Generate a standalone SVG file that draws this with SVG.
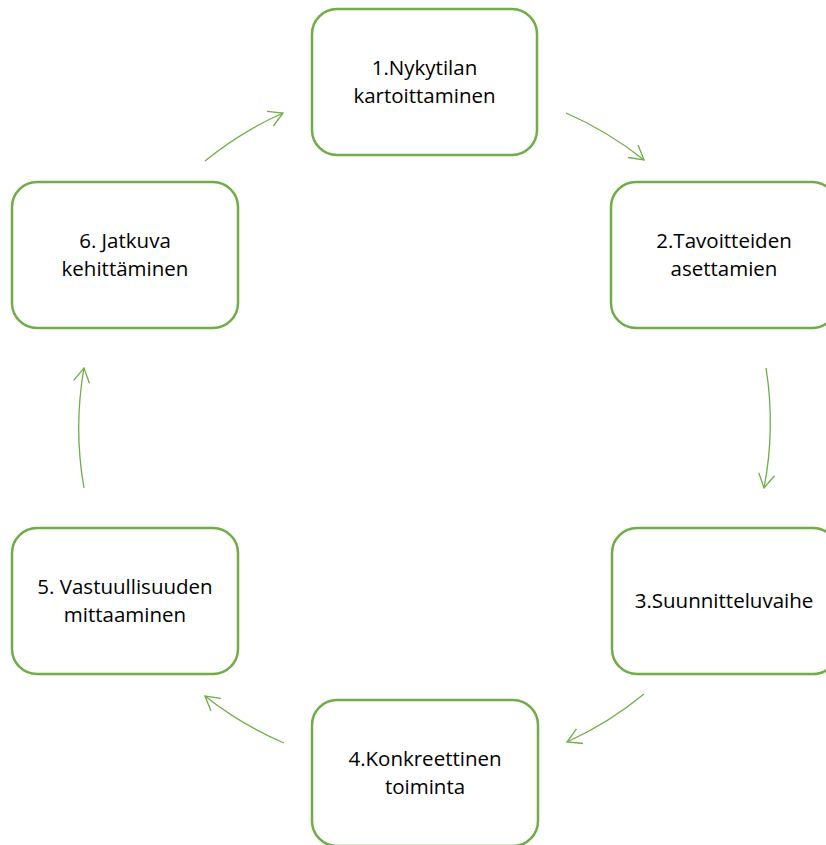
<svg xmlns="http://www.w3.org/2000/svg" width="826" height="845" viewBox="0 0 826 845">
  <style>
    .box { fill: #ffffff; stroke: #70AD47; stroke-width: 2.5; }
    .lbl { font-family: "Open Sans", "Liberation Sans", sans-serif; font-size: 20.5px; fill: #000000; text-anchor: middle; }
    .arr { fill: none; stroke: #70AD47; stroke-width: 1.3; marker-end: url(#head); }
  </style>
  <defs>
    <marker id="head" viewBox="0 0 16 18" refX="15" refY="9" markerWidth="16" markerHeight="18" markerUnits="userSpaceOnUse" orient="auto">
      <path d="M1,1 L15,9 L1,17" fill="none" stroke="#70AD47" stroke-width="1.3"/>
    </marker>
  </defs>
  <rect width="826" height="845" fill="#ffffff"/>
  <g id="connectors">
    <path class="arr" d="M566,113 A344,344 0 0 1 644,160"/>
    <path class="arr" d="M766,368 A344,344 0 0 1 764,488"/>
    <path class="arr" d="M644,694 A344,344 0 0 1 567,742"/>
    <path class="arr" d="M284,743 A344,344 0 0 1 205,696"/>
    <path class="arr" d="M84,488 A344,344 0 0 1 84,368"/>
    <path class="arr" d="M205,161 A344,344 0 0 1 283,113"/>
  </g>
  <g id="node1">
    <rect class="box" x="312" y="9" width="225" height="146" rx="25"/>
    <text class="lbl" x="424.5" y="74.5">1.Nykytilan</text>
    <text class="lbl" x="424.5" y="102.5">kartoittaminen</text>
  </g>
  <g id="node2">
    <rect class="box" x="611" y="182" width="226" height="146" rx="25"/>
    <text class="lbl" x="724" y="247.5">2.Tavoitteiden</text>
    <text class="lbl" x="724" y="275.5">asettamien</text>
  </g>
  <g id="node3">
    <rect class="box" x="612" y="528" width="226" height="146" rx="25"/>
    <text class="lbl" x="724" y="608">3.Suunnitteluvaihe</text>
  </g>
  <g id="node4">
    <rect class="box" x="312" y="700" width="226" height="146" rx="25"/>
    <text class="lbl" x="425" y="766">4.Konkreettinen</text>
    <text class="lbl" x="425" y="794">toiminta</text>
  </g>
  <g id="node5">
    <rect class="box" x="12" y="528" width="226" height="146" rx="25"/>
    <text class="lbl" x="125" y="593.5">5. Vastuullisuuden</text>
    <text class="lbl" x="125" y="621.5">mittaaminen</text>
  </g>
  <g id="node6">
    <rect class="box" x="12" y="182" width="226" height="146" rx="25"/>
    <text class="lbl" x="125" y="248">6. Jatkuva</text>
    <text class="lbl" x="125" y="276">kehittäminen</text>
  </g>
</svg>
